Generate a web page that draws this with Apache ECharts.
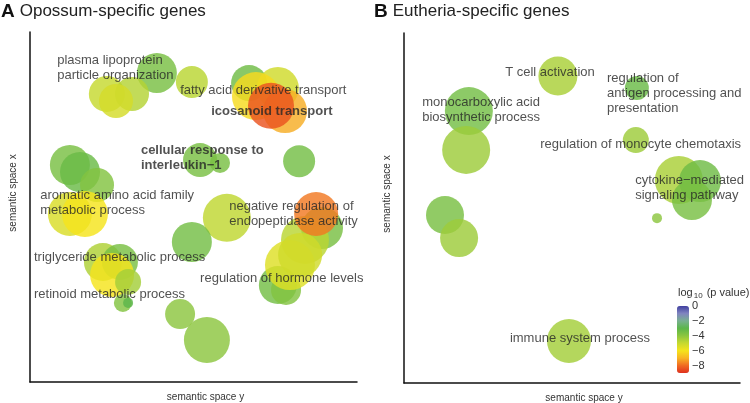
<!DOCTYPE html>
<html>
<head>
<meta charset="utf-8">
<script src="https://cdn.jsdelivr.net/npm/echarts@6/dist/echarts.min.js"></script>
<style>
html,body{margin:0;padding:0;background:#fff;}
#chart{width:750px;height:403px;}
</style>
</head>
<body>
<div id="chart"></div>
<script>
// ---------- Panel A: Opossum-specific genes ----------
const oposX    = [38.8,23.5,31.2,26.3,49.5,67.0,75.8,69.1,78.0,73.7,52.0,58.1,82.3,12.2,15.3,20.5,12.2,16.8,60.2,49.5,89.3,84.1,87.5,75.8,78.3,79.5,82.6,22.3,27.5,25.1,30.0,28.4,30.0,45.9,54.1];
const oposY    = [88.3,82.3,82.3,80.3,85.7,85.4,84.0,81.7,77.4,78.9,63.4,62.6,63.1,62.0,60.0,56.3,48.0,48.0,46.9,40.0,44.0,40.6,48.0,27.7,26.3,33.4,36.3,34.3,34.3,30.6,28.6,22.6,22.6,19.4,12.0];
const oposLogP = [-3.6,-5.0,-4.7,-5.3,-4.8,-3.4,-5.2,-6.2,-7.1,-8.4,-3.6,-3.6,-3.5,-3.6,-3.3,-3.8,-5.4,-6.0,-4.9,-3.5,-3.6,-4.8,-7.8,-3.5,-3.8,-5.5,-5.2,-4.6,-3.6,-6.0,-4.4,-3.8,-3.0,-4.0,-4.0];
const oposSize = [4.0,3.6,3.4,3.4,3.2,3.6,4.2,4.8,4.4,4.6,3.4,2.0,3.2,4.0,4.0,3.4,4.4,4.6,4.8,4.0,4.2,4.8,4.4,3.8,3.0,5.0,4.4,3.8,3.6,4.4,2.6,1.8,1.0,3.0,4.6];

const oposLabels = ['plasma lipoprotein\nparticle organization','fatty acid derivative transport','icosanoid transport','cellular response to\ninterleukin\u22121','aromatic amino acid family\nmetabolic process','negative regulation of\nendopeptidase activity','triglyceride metabolic process','regulation of hormone levels','retinoid metabolic process'];
const oposLabelX = [8.3,45.9,55.4,33.9,3.1,60.9,1.2,52.0,1.2];
const oposLabelY = [89.7,83.4,77.4,63.9,51.1,48.0,35.7,29.7,24.9];
const oposLabelBold = [false,false,true,true,false,false,false,false,false];

// ---------- Panel B: Eutheria-specific genes ----------
const euthX    = [45.8,69.3,19.3,18.5,69.0,81.8,88.1,85.7,75.3,12.2,16.4,49.1];
const euthY    = [87.7,84.3,77.7,66.6,69.4,58.0,57.7,52.3,47.1,48.0,41.4,12.0];
const euthLogP = [-4.5,-3.3,-3.5,-4.3,-4.3,-4.5,-3.4,-3.6,-4.0,-3.6,-4.3,-4.4];
const euthSize = [3.9,2.4,4.8,4.8,2.6,4.8,4.2,4.0,1.0,3.8,3.8,4.4];

const euthLabels = ['T cell activation','regulation of\nantigen processing and\npresentation','monocarboxylic acid\nbiosynthetic process','regulation of monocyte chemotaxis','cytokine\u2212mediated\nsignaling pathway','immune system process'];
const euthLabelX = [30.1,60.4,5.4,40.5,68.8,31.5];
const euthLabelY = [88.6,82.6,77.9,68.3,55.6,12.6];

// ---------- colour scale ----------
const legendTicks = [0,-2,-4,-6,-8];
const pColors = ['#e0301e','#f06a22','#f8b424','#f5e41c','#c6d92f','#8cc63f','#5cb64a','#78b090','#8084c0','#4040a0'];

const FONT = 'Liberation Sans, Arial, Helvetica, sans-serif';

function bubbles(xs, ys, ps, ss){
  return xs.map((x,i)=>[x, ys[i], ps[i], ss[i]]);
}
function labels(names, xs, ys, bold){
  return names.map((n,i)=>({
    name:n, value:[xs[i], ys[i]],
    label: bold && bold[i] ? {fontWeight:'bold'} : undefined
  }));
}

const axisCommon = {
  type:'value', min:0, max:100,
  axisLine:{show:true, onZero:false, lineStyle:{color:'#111', width:1.5}},
  axisTick:{show:false}, axisLabel:{show:false}, splitLine:{show:false},
  nameLocation:'middle',
  nameTextStyle:{fontSize:10, color:'#333', fontFamily:FONT}
};
function xAx(grid){
  return Object.assign({}, axisCommon, {gridIndex:grid, name:'semantic space y', nameGap:10,
    nameTextStyle:Object.assign({}, axisCommon.nameTextStyle, {padding:[0,0,0,24]})});
}
function yAx(grid){
  return Object.assign({}, axisCommon, {gridIndex:grid, name:'semantic space x', nameGap:12,
    nameTextStyle:Object.assign({}, axisCommon.nameTextStyle, {padding:[0,0,0,28]})});
}

const labelSeries = (xi, data) => ({
  type:'scatter', xAxisIndex:xi, yAxisIndex:xi, data:data,
  symbolSize:0.1, itemStyle:{color:'rgba(0,0,0,0)'}, silent:true, z:5,
  label:{show:true, position:'right', distance:0, formatter:p=>p.name,
    fontSize:13, lineHeight:15, color:'#262626', fontFamily:FONT}
});
const bubbleSeries = (xi, data) => ({
  type:'scatter', xAxisIndex:xi, yAxisIndex:xi, data:data,
  symbolSize: v => v[3]*10,
  itemStyle:{opacity:0.82}, silent:true, z:2
});

const titleRich = {
  a:{fontSize:19, fontWeight:'bold', color:'#111', fontFamily:FONT},
  t:{fontSize:17, fontWeight:'normal', color:'#222', fontFamily:FONT}
};

const option = {
  animation:false,
  backgroundColor:'#fff',
  textStyle:{fontFamily:FONT},
  title:[
    {text:'{a|A} {t|Opossum-specific genes}', left:1, top:2, padding:0,
      textStyle:{fontWeight:'normal', rich:titleRich}},
    {text:'{a|B} {t|Eutheria-specific genes}', left:374, top:2, padding:0,
      textStyle:{fontWeight:'normal', rich:titleRich}},
    {text:'log{s|10} (p value)', left:678, top:286, padding:0,
      textStyle:{fontSize:11, fontWeight:'normal', color:'#333', fontFamily:FONT,
        rich:{s:{fontSize:8, verticalAlign:'bottom', padding:[6,1,0,1], color:'#333', fontFamily:FONT}}}}
  ],
  grid:[
    {left:30, top:32, width:327, height:350, outerBoundsMode:'none', containLabel:false},
    {left:404, top:33, width:336, height:350, outerBoundsMode:'none', containLabel:false},
    {left:677, top:306, width:12, height:59.5, outerBoundsMode:'none', containLabel:false}
  ],
  xAxis:[xAx(0), xAx(1),
    {gridIndex:2, type:'value', show:false, min:0, max:1}],
  yAxis:[yAx(0), yAx(1),
    {gridIndex:2, type:'value', min:-8, max:0, interval:2, position:'right',
      axisLine:{show:false}, axisTick:{show:false},
      splitLine:{show:true, lineStyle:{color:'#fff', width:1, type:[4,4]}},
      axisLabel:{show:true, margin:3, fontSize:11, color:'#333', fontFamily:FONT,
        formatter:v=>String(v).replace('-','\u2212')}}
  ],
  visualMap:{
    type:'continuous', min:-9, max:0, dimension:2, seriesIndex:[0,2],
    inRange:{color:pColors}, calculable:false, text:null, showLabel:false,
    itemWidth:12, itemHeight:67, left:677, top:306, padding:0, orient:'vertical'
  },
  series:[
    bubbleSeries(0, bubbles(oposX, oposY, oposLogP, oposSize)),
    labelSeries(0, labels(oposLabels, oposLabelX, oposLabelY, oposLabelBold)),
    bubbleSeries(1, bubbles(euthX, euthY, euthLogP, euthSize)),
    labelSeries(1, labels(euthLabels, euthLabelX, euthLabelY)),
    {type:'scatter', xAxisIndex:2, yAxisIndex:2, data:legendTicks.map(t=>[0.5,t]), symbolSize:0, silent:true, z:10}
  ]
};
const chart = echarts.init(document.getElementById('chart'), null, {renderer:'canvas'});
chart.setOption(option);
</script>
</body>
</html>
